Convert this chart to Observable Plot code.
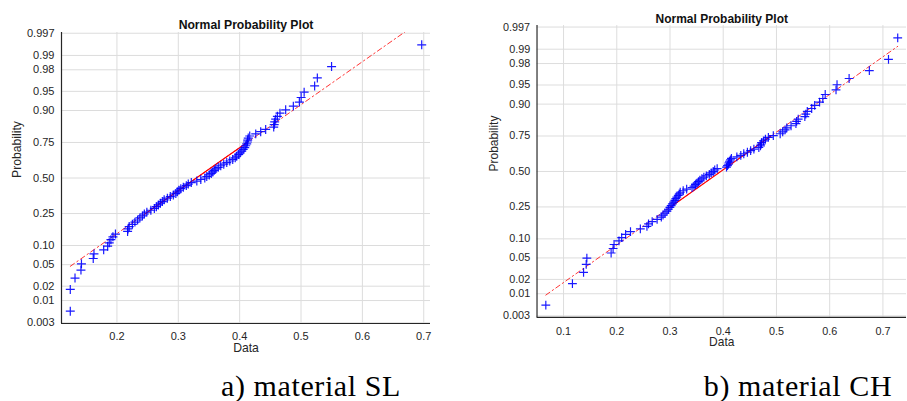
<!DOCTYPE html>
<html>
<head>
<meta charset="utf-8">
<script src="https://cdn.jsdelivr.net/npm/d3@7"></script>
<script src="https://cdn.jsdelivr.net/npm/@observablehq/plot@0.6"></script>
<style>
  html, body { margin: 0; padding: 0; background: #fff; }
  #wrap { position: relative; width: 907px; height: 401px; overflow: hidden; background: #fff; }
  .panel { position: absolute; top: 0; }
  .caption { position: absolute; top: 371px; transform: translateX(-50%); white-space: nowrap;
    font-family: "Liberation Serif", "Times New Roman", serif; font-size: 30px; line-height: 30px;
    letter-spacing: 0.6px; color: #000; }
</style>
</head>
<body>
<div id="wrap">
  <div id="pa" class="panel" style="left:0px"></div>
  <div id="pb" class="panel" style="left:453px"></div>
  <div class="caption" style="left:311px">a) material SL</div>
  <div class="caption" style="left:798px">b) material CH</div>
</div>
<script>
// ---- data (sorted sample values) ----
const slValues = [
  0.124, 0.124, 0.1317, 0.1414, 0.1422, 0.1614, 0.1626, 0.1784, 0.1849, 0.1875,
  0.1902, 0.1935, 0.1976, 0.2174, 0.2180, 0.2200, 0.2252, 0.2293, 0.2337, 0.2374,
  0.2415, 0.2447, 0.2488, 0.2553, 0.2610, 0.2643, 0.2675, 0.2708, 0.2740, 0.2770,
  0.2822, 0.2870, 0.2919, 0.2960, 0.2984, 0.3009, 0.3041, 0.3082, 0.3131, 0.3163,
  0.3212, 0.3302, 0.3367, 0.3432, 0.3464, 0.3505, 0.3538, 0.3562, 0.3586, 0.3611,
  0.3651, 0.3692, 0.3741, 0.3790, 0.3839, 0.3887, 0.3928, 0.3952, 0.3985, 0.4009,
  0.4034, 0.4058, 0.4083, 0.4099, 0.4115, 0.4127, 0.4131, 0.4140, 0.4164, 0.4262,
  0.4343, 0.4424, 0.4555, 0.4563, 0.4571, 0.4587, 0.4615, 0.4657, 0.4750, 0.4875,
  0.4973, 0.5002, 0.5051, 0.5222, 0.5266, 0.5498, 0.6967
];
const chValues = [
  0.0667, 0.1167, 0.1376, 0.1426, 0.1438, 0.1894, 0.1931, 0.1949, 0.2042, 0.2092,
  0.2166, 0.2258, 0.2443, 0.2567, 0.2597, 0.2665, 0.2758, 0.2837, 0.2869, 0.2906,
  0.2943, 0.2970, 0.2998, 0.3022, 0.3044, 0.3067, 0.3091, 0.3109, 0.3128, 0.3155,
  0.3174, 0.3192, 0.3248, 0.3313, 0.3414, 0.3451, 0.3479, 0.3507, 0.3535, 0.3562,
  0.3599, 0.3636, 0.3683, 0.3738, 0.3775, 0.3812, 0.3840, 0.3886, 0.4062, 0.4080,
  0.4099, 0.4108, 0.4117, 0.4136, 0.4154, 0.4256, 0.4330, 0.4386, 0.4454, 0.4515,
  0.4576, 0.4669, 0.4700, 0.4709, 0.4719, 0.4756, 0.4793, 0.4848, 0.4941, 0.5070,
  0.5117, 0.5163, 0.5194, 0.5274, 0.5366, 0.5379, 0.5409, 0.5533, 0.5551, 0.5579,
  0.5662, 0.5718, 0.5810, 0.5871, 0.5916, 0.6119, 0.6138, 0.6365, 0.6745, 0.7105, 0.7278
];
const probTicks = [0.003, 0.01, 0.02, 0.05, 0.10, 0.25, 0.50, 0.75, 0.90, 0.95, 0.98, 0.99, 0.997];
const probTickLabels = ["0.003", "0.01", "0.02", "0.05", "0.10", "0.25", "0.50", "0.75", "0.90", "0.95", "0.98", "0.99", "0.997"];
const xTicksSL = [0.2, 0.3, 0.4, 0.5, 0.6, 0.7];
const xTicksCH = [0.1, 0.2, 0.3, 0.4, 0.5, 0.6, 0.7];
const titleText = "Normal Probability Plot";
const xLabelText = "Data";
const yLabelText = "Probability";

// inverse standard normal CDF (Acklam)
function probit(p) {
  const a = [-3.969683028665376e+01, 2.209460984245205e+02, -2.759285104469687e+02, 1.383577518672690e+02, -3.066479806614716e+01, 2.506628277459239e+00];
  const b = [-5.447609879822406e+01, 1.615858368580409e+02, -1.556989798598866e+02, 6.680131188771972e+01, -1.328068155288572e+01];
  const c = [-7.784894002430293e-03, -3.223964580411365e-01, -2.400758277161838e+00, -2.549732539343734e+00, 4.374664141464968e+00, 2.938163982698783e+00];
  const d = [7.784695709041462e-03, 3.224671290700398e-01, 2.445134137142996e+00, 3.754408661907416e+00];
  const plow = 0.02425, phigh = 1 - plow;
  if (p < plow) {
    const q = Math.sqrt(-2 * Math.log(p));
    return (((((c[0]*q+c[1])*q+c[2])*q+c[3])*q+c[4])*q+c[5]) / ((((d[0]*q+d[1])*q+d[2])*q+d[3])*q+1);
  }
  if (p <= phigh) {
    const q = p - 0.5, r = q * q;
    return (((((a[0]*r+a[1])*r+a[2])*r+a[3])*r+a[4])*r+a[5])*q / (((((b[0]*r+b[1])*r+b[2])*r+b[3])*r+b[4])*r+1);
  }
  const q = Math.sqrt(-2 * Math.log(1 - p));
  return -(((((c[0]*q+c[1])*q+c[2])*q+c[3])*q+c[4])*q+c[5]) / ((((d[0]*q+d[1])*q+d[2])*q+d[3])*q+1);
}

function normPlot(values, xTicks, opt) {
  const n = values.length;
  const sorted = values.slice().sort(d3.ascending);
  const pts = sorted.map((v, i) => ({x: v, z: probit((i + 0.5) / n)}));
  const yDom = [probit(0.25 / n), probit(1 - 0.25 / n)];
  const lo = sorted[0], hi = sorted[n - 1], rng = hi - lo;
  const xDom = [lo - 0.025 * rng, hi + 0.025 * rng];
  const q1 = d3.quantile(sorted, 0.25), q3 = d3.quantile(sorted, 0.75);
  const z1 = probit(0.25), z3 = probit(0.75);
  const slope = (z3 - z1) / (q3 - q1);
  const fz = x => z1 + (x - q1) * slope;
  const fullLine = [lo, hi].map(x => ({x, z: fz(x)}));
  const midLine = [q1, q3].map(x => ({x, z: fz(x)}));
  const zTicks = probTicks.map(probit);
  const gridC = "#dcdcdc", axC = "#262626";
  return Plot.plot({
    width: opt.width, height: opt.height,
    marginLeft: opt.ml, marginRight: opt.mr, marginTop: opt.mt, marginBottom: opt.mb,
    style: {fontFamily: "'Liberation Sans', Arial, Helvetica, sans-serif", fontSize: "11px", color: axC, background: "#fff", overflow: "visible"},
    x: {domain: xDom, ticks: xTicks, tickFormat: d => String(+d.toFixed(1)), tickSize: 0, tickPadding: opt.xpad, label: null},
    y: {domain: yDom, ticks: zTicks, tickFormat: d => probTickLabels[zTicks.indexOf(d)], tickSize: 0, tickPadding: 7, label: null},
    marks: [
      Plot.ruleX(xTicks, {stroke: gridC, strokeWidth: 1}),
      Plot.ruleY(zTicks, {stroke: gridC, strokeWidth: 1}),
      Plot.ruleX([xDom[0]], {stroke: axC, strokeWidth: 1.2}),
      Plot.ruleY([yDom[0]], {stroke: axC, strokeWidth: 1.2}),
      Plot.line(fullLine, {x: "x", y: "z", stroke: "#ff0000", strokeWidth: 1, strokeDasharray: "5,3,1.5,3", strokeOpacity: 0.8, clip: true}),
      Plot.line(midLine, {x: "x", y: "z", stroke: "#ff0000", strokeWidth: 1.2}),
      Plot.dot(pts, {x: "x", y: "z", symbol: "plus", r: 3, stroke: "#0000ff", strokeWidth: 1.2, strokeOpacity: 0.9}),
      Plot.text([titleText], {frameAnchor: "top", dy: opt.tdy, fontWeight: "bold", fontSize: 12.2, fill: "#111"}),
      Plot.text([xLabelText], {frameAnchor: "bottom", dy: opt.xldy, fontSize: 12.2, fill: axC}),
      Plot.text([yLabelText], {frameAnchor: "left", dx: -44, rotate: -90, fontSize: 12.2, fill: axC})
    ]
  });
}

document.getElementById("pa").appendChild(normPlot(slValues, xTicksSL,
  {width: 453, height: 360, ml: 61, mr: 23, mt: 32, mb: 37, xpad: 9, tdy: -12, xldy: 28.5}));
document.getElementById("pb").appendChild(normPlot(chValues, xTicksCH,
  {width: 462, height: 360, ml: 85, mr: 1, mt: 25.5, mb: 37.5, xpad: 10, tdy: -11.5, xldy: 29.5}));
</script>
</body>
</html>
